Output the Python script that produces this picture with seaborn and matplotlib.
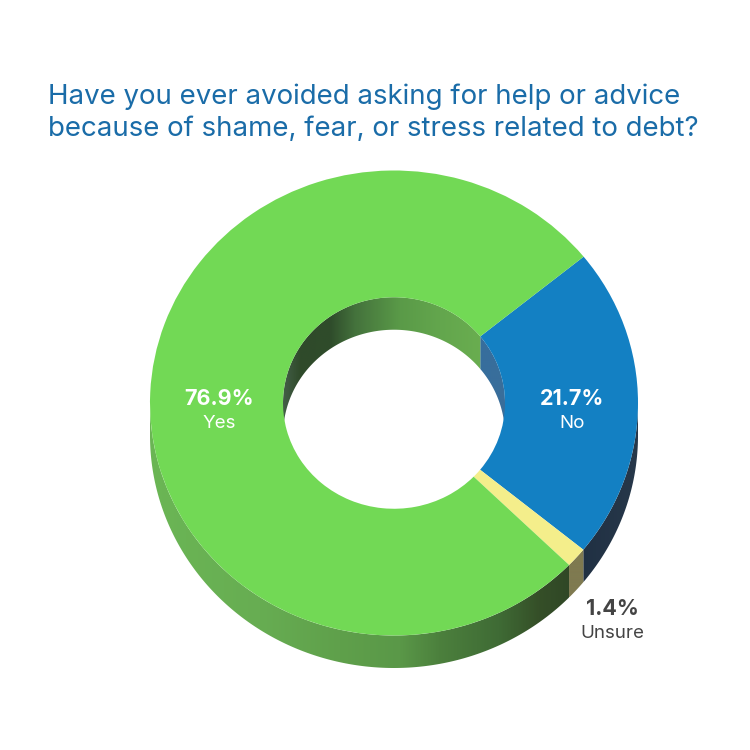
import numpy as np
import matplotlib
matplotlib.use("Agg")
import matplotlib.pyplot as plt
from matplotlib.colors import LinearSegmentedColormap
from matplotlib.patches import Polygon
import seaborn as sns

# Survey results
answers = ["No", "Unsure", "Yes"]
shares = [21.7, 1.4, 76.9]
share_labels = ["21.7%", "1.4%", "76.9%"]
title_lines = ["Have you ever avoided asking for help or advice",
               "because of shame, fear, or stress related to debt?"]

sns.set_theme(style="white")
plt.rcParams["font.family"] = ["Inter", "DejaVu Sans"]

SIZE = 750
CX, CY, RX, RY = 394, 403, 244, 232.5
HOLE = 111 / 244
DEPTH = 32.5 / 232.5
START = 39.0

top_colors = sns.color_palette(["#1380C3", "#F4EE8B", "#72D955"])
outer_stops = {
    "No": [(570, "#1F2F42"), (640, "#27384A")],
    "Unsure": [(555, "#7F7A50"), (595, "#7F7A50")],
    "Yes": [(148, "#6BB655"), (260, "#67AD52"), (340, "#5FA04B"), (400, "#5A9848"),
            (440, "#4C803D"), (500, "#3F6B35"), (540, "#354F28"), (575, "#2F4626")],
}
inner_stops = {
    "No": [(475, "#366E9E"), (507, "#3A6E9A")],
    "Yes": [(281, "#45604A"), (300, "#2F4A2A"), (330, "#2F4C2B"), (355, "#44723C"),
            (400, "#5A9A48"), (440, "#63A64D"), (485, "#6AAE50")],
}

fig = plt.figure(figsize=(SIZE / 100, SIZE / 100), dpi=100, facecolor="white")
ax = fig.add_axes([0, 0, 1, 1])


def px_x(x):
    return (x - CX) / RX


def gradient_fill(ax, verts, stops):
    """Paint a polygon with a left-to-right colour ramp."""
    xs = [px_x(s[0]) for s in stops]
    span = xs[-1] - xs[0]
    cmap = LinearSegmentedColormap.from_list(
        "ramp", [((x - xs[0]) / span, s[1]) for x, s in zip(xs, stops)])
    ramp = np.linspace(0, 1, 400)[None, :]
    bottom, top = verts[:, 1].min(), verts[:, 1].max()
    img = ax.imshow(ramp, cmap=cmap, aspect="auto", origin="lower",
                    extent=(xs[0], xs[-1], bottom, top), zorder=0, interpolation="bilinear")
    patch = Polygon(verts, closed=True, transform=ax.transData, facecolor="none", edgecolor="none")
    ax.add_patch(patch)
    img.set_clip_path(patch)


def wall(t1, t2, radius):
    t = np.radians(np.linspace(t1, t2, 200))
    upper = np.column_stack([radius * np.cos(t), np.sin(t) * radius])
    lower = upper[::-1] - [0, DEPTH]
    return np.vstack([upper, lower])


# Slice boundaries, measured clockwise from the starting angle
edges = START - np.cumsum([0] + [s * 3.6 for s in shares])
spans = {a: (edges[i + 1], edges[i]) for i, a in enumerate(answers)}

# Outer rim, only the front half shows
gradient_fill(ax, wall(spans["No"][0], 0, 1.0), outer_stops["No"])
gradient_fill(ax, wall(*spans["Unsure"], 1.0), outer_stops["Unsure"])
gradient_fill(ax, wall(-180, spans["Yes"][1], 1.0), outer_stops["Yes"])

# Inside of the hole, only the back half shows
gradient_fill(ax, wall(0, spans["No"][1], HOLE), inner_stops["No"])
gradient_fill(ax, wall(spans["No"][1], 180, HOLE), inner_stops["Yes"])

# Top face of the ring
ax.pie(shares, colors=top_colors, startangle=START, counterclock=False, radius=1.0,
       wedgeprops=dict(width=1 - HOLE, edgecolor="none", linewidth=0))

ax.set_aspect("auto")
ax.set_xlim(px_x(0), px_x(SIZE))
ax.set_ylim((CY - SIZE) / RY, CY / RY)
ax.axis("off")


def label(x, y, text, **kw):
    fig.text(x / SIZE, 1 - y / SIZE, text, ha="center", va="center", **kw)


fig.text(48 / SIZE, 1 - 104 / SIZE, title_lines[0], color="#1A6CA8", fontsize=19.9, va="baseline")
fig.text(48 / SIZE, 1 - 136 / SIZE, title_lines[1], color="#1A6CA8", fontsize=19.9, va="baseline")

label(219, 399, share_labels[2], color="white", fontsize=15.5, fontweight="bold")
label(219, 424, answers[2], color="white", fontsize=13.5)
label(572, 399, share_labels[0], color="white", fontsize=15.5, fontweight="bold")
label(572, 424, answers[0], color="white", fontsize=13.5)
label(612, 609, share_labels[1], color="#444444", fontsize=15.5, fontweight="bold")
label(612, 633, answers[1], color="#444444", fontsize=13.5)

fig.savefig("out.png", dpi=100, facecolor="white")
